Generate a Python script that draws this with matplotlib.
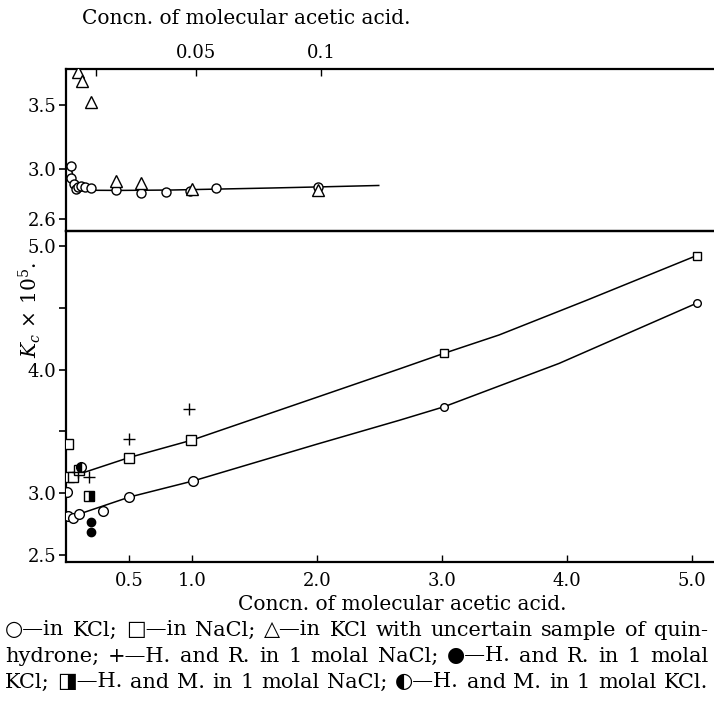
import matplotlib
matplotlib.use('Agg')
import matplotlib.pyplot as plt

plt.rcParams['font.family'] = ['DejaVu Serif', 'DejaVu Sans']
plt.rcParams['mathtext.fontset'] = 'dejavuserif'

# ---------------- top panel (dilute range) ----------------
top_kcl_x = [0.0, 0.0, 0.001, 0.0019, 0.0029, 0.004, 0.0056, 0.0079, 0.018, 0.0279, 0.0379, 0.0476, 0.0579, 0.0989]
top_kcl_y = [3.02, 2.927, 2.878, 2.836, 2.852, 2.862, 2.852, 2.849, 2.830, 2.809, 2.814, 2.825, 2.849, 2.856]
top_tri_x = [0.0027, 0.0045, 0.0079, 0.018, 0.0279, 0.0483, 0.0989]
top_tri_y = [3.765, 3.694, 3.523, 2.904, 2.888, 2.838, 2.830]
top_curve_x = [0.0, 0.001, 0.002, 0.003, 0.005, 0.008, 0.02, 0.04, 0.06, 0.08, 0.10, 0.123]
top_curve_y = [3.00, 2.93, 2.87, 2.845, 2.832, 2.828, 2.827, 2.830, 2.838, 2.846, 2.855, 2.866]
top_xticks = [0.05, 0.1]
top_xticklabels = ['0.05', '0.1']
top_yticks = [2.6, 3.0, 3.5]
top_yticklabels = ['2.6', '3.0', '3.5']

# ---------------- bottom panel ----------------
kcl_x = [0.0, 0.005, 0.045, 0.093, 0.29, 0.5, 1.01, 3.02, 5.04]
kcl_y = [3.008, 2.817, 2.798, 2.833, 2.857, 2.973, 3.10, 3.70, 4.536]
nacl_x = [0.01, 0.02, 0.05, 0.10, 0.5, 0.99, 3.02, 5.04]
nacl_y = [3.396, 3.134, 3.134, 3.19, 3.288, 3.431, 4.132, 4.921]
hr_nacl_x = [0.09, 0.18, 0.5, 0.98]
hr_nacl_y = [3.17, 3.134, 3.437, 3.68]
hr_kcl_x = [0.19, 0.19]
hr_kcl_y = [2.77, 2.69]
hm_nacl_x = [0.18]
hm_nacl_y = [2.98]
hm_kcl_x = [0.11]
hm_kcl_y = [3.21]
nacl_curve_x = [0.08, 0.5, 1.0, 2.0, 2.66, 3.02, 3.46, 4.16, 5.04]
nacl_curve_y = [3.15, 3.29, 3.43, 3.776, 4.005, 4.132, 4.28, 4.56, 4.921]
kcl_curve_x = [0.09, 0.5, 1.01, 2.0, 2.66, 3.02, 3.94, 5.04]
kcl_curve_y = [2.83, 2.97, 3.10, 3.397, 3.59, 3.70, 4.05, 4.536]
bot_xticks = [0.5, 1.0, 2.0, 3.0, 4.0, 5.0]
bot_xticklabels = ['0.5', '1.0', '2.0', '3.0', '4.0', '5.0']
bot_yticks = [2.5, 3.0, 3.5, 4.0, 4.5, 5.0]
bot_yticklabels = ['2.5', '3.0', '', '4.0', '', '5.0']

caption_lines = [
    "○\u2014in KCl;  □\u2014in NaCl;  △\u2014in KCl with uncertain sample of quin-",
    "hydrone;  +\u2014H. and R. in 1 molal NaCl;  ●\u2014H. and R. in 1 molal",
    "KCl;  ◨\u2014H. and M. in 1 molal NaCl; ◐\u2014H. and M. in 1 molal KCl.",
]
xlabel_text = "Concn. of molecular acetic acid."

W, H = 714, 704
fig = plt.figure(figsize=(W / 100, H / 100), dpi=100)

TFS = 13      # tick labels
LFS = 14.5    # axis titles
CFS = 15      # caption
LW = 1.1
SPW = 1.6

def px(x0, y0, x1, y1):
    return [x0 / W, 1 - y1 / H, (x1 - x0) / W, (y1 - y0) / H]

ax_t = fig.add_axes(px(66, 69, 714, 231))
ax_b = fig.add_axes(px(66, 231, 714, 562))

for ax in (ax_t, ax_b):
    ax.spines['right'].set_visible(False)
    for s in ('left', 'top', 'bottom'):
        ax.spines[s].set_linewidth(SPW)
    ax.set_facecolor('none')

mk = dict(color='black', markeredgewidth=1.0, linestyle='none', zorder=3)

# top panel
ax_t.plot(top_curve_x, top_curve_y, color='black', lw=LW, zorder=2)
ax_t.plot(top_kcl_x, top_kcl_y, marker='o', markersize=6.5, markerfacecolor='white', **mk)
ax_t.plot(top_tri_x, top_tri_y, marker='^', markersize=8, markerfacecolor='white', **mk)
ax_t.set_xlim(-0.002, 0.257)
ax_t.set_ylim(2.506, 3.787)
ax_t.xaxis.tick_top()
ax_t.set_xticks(top_xticks)
ax_t.set_xticklabels(top_xticklabels, fontsize=TFS)
ax_t.set_xticks([0.01], minor=True)
ax_t.tick_params(axis='x', which='both', direction='in', length=5, width=1, pad=5)
ax_t.set_yticks(top_yticks)
ax_t.set_yticklabels(top_yticklabels, fontsize=TFS)
ax_t.tick_params(axis='y', direction='out', length=5, width=1.2, pad=2)

# bottom panel
ax_b.plot(nacl_curve_x, nacl_curve_y, color='black', lw=LW, zorder=2)
ax_b.plot(kcl_curve_x, kcl_curve_y, color='black', lw=LW, zorder=2)
ax_b.plot(kcl_x[:7], kcl_y[:7], marker='o', markersize=7, markerfacecolor='white', **mk)
ax_b.plot(kcl_x[7:], kcl_y[7:], marker='o', markersize=5.5, markerfacecolor='white', **mk)
ax_b.plot(nacl_x[:6], nacl_y[:6], marker='s', markersize=7, markerfacecolor='white', **mk)
ax_b.plot(nacl_x[6:], nacl_y[6:], marker='s', markersize=6, markerfacecolor='white', **mk)
ax_b.plot(hr_nacl_x, hr_nacl_y, marker='+', markersize=8, **mk)
ax_b.plot(hr_kcl_x, hr_kcl_y, marker='o', markersize=6, markerfacecolor='black', **mk)
ax_b.plot(hm_nacl_x, hm_nacl_y, marker='s', markersize=7, fillstyle='right',
          markerfacecolor='black', markerfacecoloralt='white', **mk)
ax_b.plot(hm_kcl_x, hm_kcl_y, marker='o', markersize=7, fillstyle='left',
          markerfacecolor='black', markerfacecoloralt='white', **mk)
ax_b.set_xlim(-0.008, 5.18)
ax_b.set_ylim(2.445, 5.12)
ax_b.set_xticks(bot_xticks)
ax_b.set_xticklabels(bot_xticklabels, fontsize=TFS)
ax_b.tick_params(axis='x', direction='in', length=5, width=1, pad=7)
ax_b.set_yticks(bot_yticks)
ax_b.set_yticklabels(bot_yticklabels, fontsize=TFS)
ax_b.tick_params(axis='y', direction='out', length=5, width=1.2, pad=2)

# axis titles
fig.text(246 / W, 1 - 18 / H, xlabel_text, fontsize=LFS, ha='center', va='center')
fig.text(402 / W, 1 - 605 / H, xlabel_text, fontsize=LFS, ha='center', va='center')
fig.text(30 / W, 1 - 310 / H, r'$K_c\,\times\,10^5.$', fontsize=LFS, rotation=90,
         ha='center', va='center')

# justified caption
fig.canvas.draw()
renderer = fig.canvas.get_renderer()
left_px, right_px = 5, 708
line_y = [630, 656, 682]
for line, yy in zip(caption_lines, line_y):
    words = line.split()
    texts = [fig.text(0, 1 - yy / H, w, fontsize=CFS, ha='left', va='center') for w in words]
    widths = [t.get_window_extent(renderer).width for t in texts]
    gap = (right_px - left_px - sum(widths)) / max(len(words) - 1, 1)
    x = left_px
    for t, w in zip(texts, widths):
        t.set_x(x / W)
        x += w + gap

fig.savefig('out.png', dpi=100)
